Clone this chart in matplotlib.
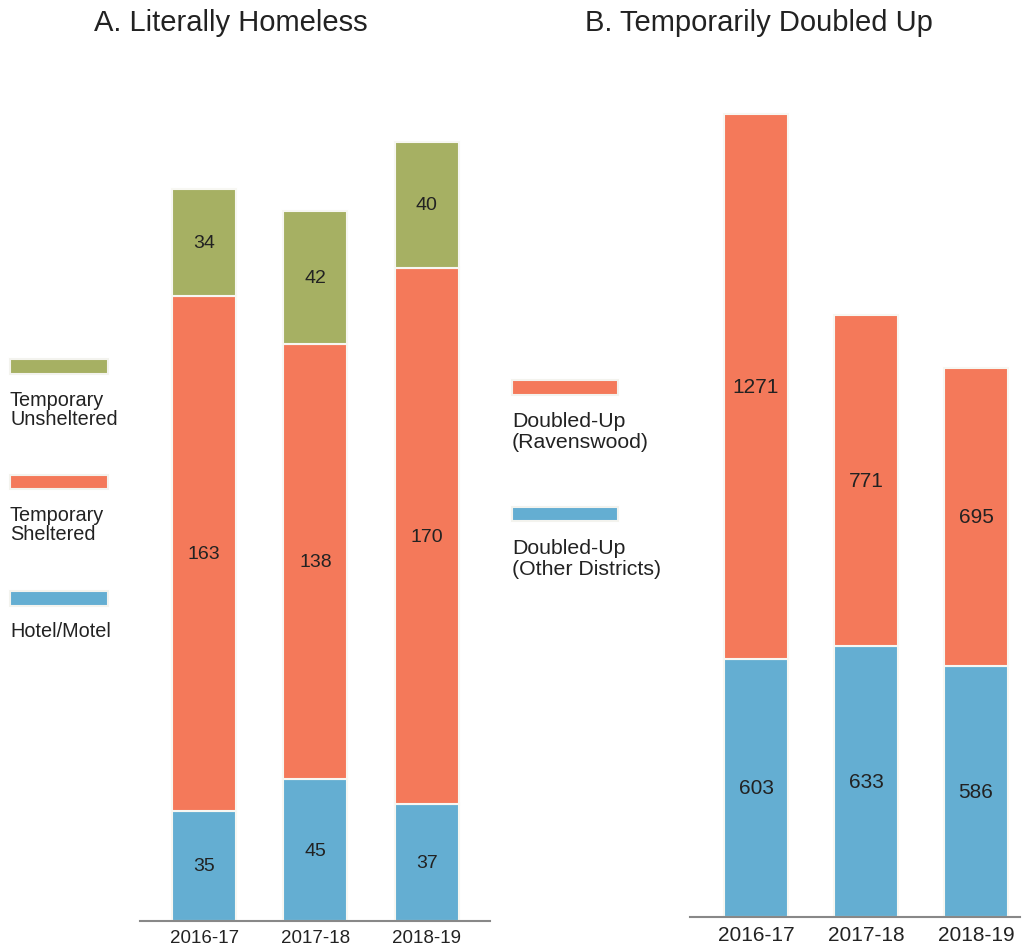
import matplotlib.pyplot as plt
from matplotlib.patches import Rectangle

plt.rcParams['font.family'] = ['Liberation Sans', 'DejaVu Sans']

years = ["2016-17", "2017-18", "2018-19"]

# Panel A: literally homeless
hotel_motel = [35, 45, 37]
sheltered = [163, 138, 170]
unsheltered = [34, 42, 40]

# Panel B: temporarily doubled up
doubled_other = [603, 633, 586]
doubled_ravenswood = [1271, 771, 695]

GREEN = "#a6b063"
ORANGE = "#f4795a"
BLUE = "#64aed2"
TEXT = "#222222"

W, H = 1029, 953
fig = plt.figure(figsize=(W / 100, H / 100), dpi=100)


def fx(px):
    return px / W


def fy(py):
    return 1 - py / H


def stacked(ax, series, colors, width, fontsize):
    x = range(len(years))
    bottom = [0] * len(years)
    for vals, col in zip(series, colors):
        bars = ax.bar(x, vals, width, bottom=bottom, color=col,
                      edgecolor="#f7f7f2", linewidth=1.5)
        for b, v in zip(bars, vals):
            ax.text(b.get_x() + b.get_width() / 2, b.get_y() + b.get_height() / 2,
                    str(v), ha="center", va="center", fontsize=fontsize, color=TEXT)
        bottom = [a + b for a, b in zip(bottom, vals)]
    ax.set_xticks(list(x))
    ax.set_xticklabels(years)
    for s in ["top", "right", "left"]:
        ax.spines[s].set_visible(False)
    ax.spines["bottom"].set_color("#888888")
    ax.spines["bottom"].set_linewidth(1.5)
    ax.set_yticks([])
    ax.tick_params(axis="x", length=0, pad=6, colors=TEXT)


# left panel: baseline y=922, scale 3.155 px/unit
axA = fig.add_axes([fx(140), fy(922), fx(350), (922 - 100) / H])
stacked(axA, [hotel_motel, sheltered, unsheltered], [BLUE, ORANGE, GREEN], 0.577, 14)
axA.set_xlim(-0.577, 2.57)
axA.set_ylim(0, 822 / 3.155)
axA.tick_params(axis="x", labelsize=13.5)

# right panel: baseline y=918, scale 0.4285 px/unit
axB = fig.add_axes([fx(690), fy(918), fx(330), (918 - 100) / H])
stacked(axB, [doubled_other, doubled_ravenswood], [BLUE, ORANGE], 0.58, 15)
axB.set_xlim(-0.6, 2.4)
axB.set_ylim(0, 818 / 0.4285)
axB.tick_params(axis="x", labelsize=15)

fig.text(fx(231), fy(23), "A. Literally Homeless", ha="center", va="center",
         fontsize=21, color=TEXT)
fig.text(fx(759), fy(23), "B. Temporarily Doubled Up", ha="center", va="center",
         fontsize=21, color=TEXT)


def legend_item(x0, x1, ytop, ybot, color, label, ytext, fs, ls):
    fig.patches.append(Rectangle((fx(x0), fy(ybot)), fx(x1 - x0), (ybot - ytop) / H,
                                 transform=fig.transFigure, color=color,
                                 ec="#f3f3ee", lw=1.5))
    fig.text(fx(x0), fy(ytext), label, ha="left", va="top", fontsize=fs,
             color=TEXT, linespacing=ls)


legend_item(10, 108, 360, 375, GREEN, "Temporary\nUnsheltered", 391, 14.3, 1.0)
legend_item(10, 108, 476, 490, ORANGE, "Temporary\nSheltered", 506, 14.3, 1.0)
legend_item(10, 108, 592, 607, BLUE, "Hotel/Motel", 622, 14.3, 1.0)

legend_item(512, 618, 381, 396, ORANGE, "Doubled-Up\n(Ravenswood)", 412, 15.3, 1.12)
legend_item(512, 618, 508, 522, BLUE, "Doubled-Up\n(Other Districts)", 539, 15.3, 1.12)

fig.savefig("out.png", dpi=100)
